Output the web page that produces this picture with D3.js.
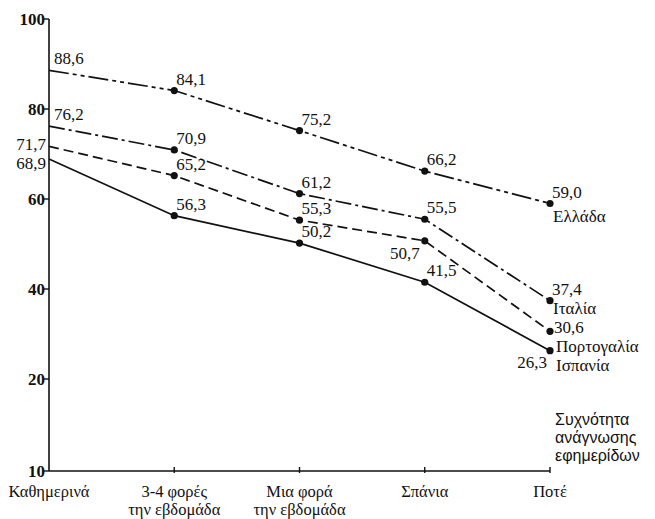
<!DOCTYPE html>
<html>
<head>
<meta charset="utf-8">
<script src="https://cdn.jsdelivr.net/npm/d3@7"></script>
<style>
  body { margin: 0; background: #fff; }
  text { font-family: "Liberation Serif", "DejaVu Serif", serif; fill: #111; }
</style>
</head>
<body>
<div id="chart"></div>
<script>
// reading frequency categories (two lines each)
var categories = [["Καθημερινά"], ["3-4 φορές", "την  εβδομάδα"], ["Μια φορά", "την εβδομάδα"], ["Σπάνια"], ["Ποτέ"]];
var yTicks = [10, 20, 40, 60, 80, 100];

var countries = ["Ελλάδα", "Ιταλία", "Πορτογαλία", "Ισπανία"];
var greece   = [88.6, 84.1, 75.2, 66.2, 59.0];
var italy    = [76.2, 70.9, 61.2, 55.5, 37.4];
var portugal = [71.7, 65.2, 55.3, 50.7, 30.6];
var spain    = [68.9, 56.3, 50.2, 41.5, 26.3];

var series = [greece, italy, portugal, spain];
var dashes = ["20,4,4,4,4,4", "16,4,3,4", "10,5", null];

var W = 655, H = 519;
var svg = d3.select("#chart").append("svg")
  .attr("width", W).attr("height", H);

var x = d3.scalePoint().domain(d3.range(categories.length)).range([49, 550]);
// axis is linear from 20 to 100, with a compressed step down to 10
var y = d3.scaleLinear().domain([10, 20, 100]).range([471, 379, 19]);

function fmt(v) { return v.toFixed(1).replace(".", ","); }

// y axis
svg.append("line").attr("x1", 49).attr("x2", 49).attr("y1", y(100)).attr("y2", y(10))
  .attr("stroke", "#111").attr("stroke-width", 1.6);
yTicks.forEach(function (t) {
  svg.append("line").attr("x1", 44).attr("x2", 49).attr("y1", y(t)).attr("y2", y(t))
    .attr("stroke", "#111").attr("stroke-width", 1.4);
  svg.append("text").attr("x", 45).attr("y", y(t) + 6).attr("text-anchor", "end")
    .style("font-size", "17px").style("font-weight", "bold").text(t);
});

// x axis
svg.append("line").attr("x1", 49).attr("x2", 550).attr("y1", y(10)).attr("y2", y(10))
  .attr("stroke", "#111").attr("stroke-width", 1.6);
categories.forEach(function (c, i) {
  if (i > 0) {
    svg.append("line").attr("x1", x(i)).attr("x2", x(i)).attr("y1", y(10) - 4).attr("y2", y(10) + 2)
      .attr("stroke", "#111").attr("stroke-width", 1.4);
  }
  c.forEach(function (line, k) {
    svg.append("text").attr("x", x(i)).attr("y", k ? 515 : 497).attr("text-anchor", "middle")
      .style("font-size", "16.5px").text(line);
  });
});

// lines
var line = d3.line().x(function (d, i) { return x(i); }).y(function (d) { return y(d); });
series.forEach(function (s, si) {
  svg.append("path").datum(s).attr("d", line)
    .attr("fill", "none").attr("stroke", "#111").attr("stroke-width", 1.7)
    .attr("stroke-dasharray", dashes[si]);
  svg.selectAll(null).data(s.slice(1)).enter().append("circle")
    .attr("cx", function (d, i) { return x(i + 1); })
    .attr("cy", function (d) { return y(d); })
    .attr("r", 3.6).attr("fill", "#111");
});

// value labels: default above right of point
function labelPos(si, i) {
  if (i === 0 && si === 2) return [-3, 4, "end"];
  if (i === 0 && si === 3) return [-3, 10, "end"];
  if (i === 0) return [5, -6, "start"];
  if (si === 2 && i === 3) return [-5, 18, "end"];
  if (si === 2 && i === 4) return [4, 2, "start"];
  if (si === 3 && i === 4) return [-3, 17, "end"];
  return [2, -6, "start"];
}
series.forEach(function (s, si) {
  s.forEach(function (v, i) {
    var p = labelPos(si, i);
    svg.append("text").attr("x", x(i) + p[0]).attr("y", y(v) + p[1])
      .attr("text-anchor", p[2]).style("font-size", "17px").text(fmt(v));
  });
});

// country names at line ends
var nameDy = [18, 13, 21, 20];
countries.forEach(function (c, si) {
  var v = series[si][4];
  svg.append("text").attr("x", x(4) + (si >= 2 ? 6 : 3)).attr("y", y(v) + nameDy[si])
    .style("font-size", "17px").text(c);
});

// axis title
var title = svg.append("text").attr("x", 555).attr("y", 425)
  .style("font-family", "'Liberation Sans', Arial, sans-serif").style("font-size", "16px");
["Συχνότητα", "ανάγνωσης", "εφημερίδων"].forEach(function (l, k) {
  title.append("tspan").attr("x", 555).attr("dy", k ? 18 : 0).text(l);
});
</script>
</body>
</html>
